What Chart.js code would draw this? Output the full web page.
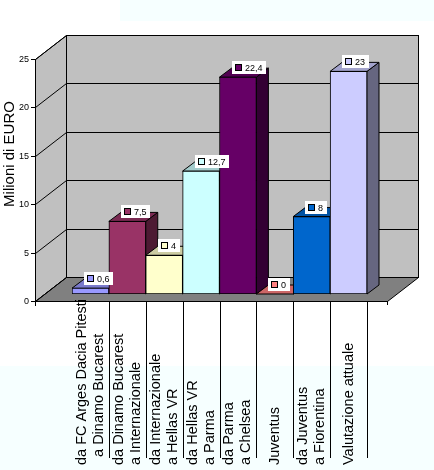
<!DOCTYPE html>
<html>
<head>
<meta charset="utf-8">
<script src="https://cdn.jsdelivr.net/npm/chart.js@4.4.1/dist/chart.umd.min.js"></script>
<style>
  html, body { margin: 0; padding: 0; background: #fff; }
  canvas { display: block; }
</style>
</head>
<body>
<canvas id="chart" width="434" height="470"></canvas>
<script>
// --- data ---
const categories = [
  ['da FC Arges Dacia Pitesti', '  a Dinamo Bucarest'],
  ['da Dinamo Bucarest', 'a Internazionale'],
  ['da Internazionale', 'a Hellas VR'],
  ['da Hellas VR', 'a Parma'],
  ['da Parma', 'a Chelsea'],
  ['Juventus'],
  ['da Juventus', 'a Fiorentina'],
  ['Valutazione attuale']
];
const values      = [0.6, 7.5, 4, 12.7, 22.4, 0, 8, 23];
const valueLabels = ['0,6', '7,5', '4', '12,7', '22,4', '0', '8', '23'];
const barColors   = ['#9999ff', '#993366', '#ffffcc', '#ccffff', '#660066', '#ff8080', '#0066cc', '#ccccff'];
const yTicks      = [0, 5, 10, 15, 20, 25];
const yTitle      = 'Milioni di EURO';

// --- look ---
const FONT = '"Liberation Sans", Arial, sans-serif';
const BAR_DX = 12, BAR_DY = 9;      // depth of a column
const FLOOR_DY = 7;                 // floor front edge sits below the column fronts
const WALL_DX = 31, WALL_DY = 24;   // full depth of the box
const WALL = '#c0c0c0', FLOOR = '#808080';

const px = (v) => Math.round(v) + 0.5;

function shade(hex, f) {
  const n = parseInt(hex.slice(1), 16);
  const r = Math.round(((n >> 16) & 255) * f);
  const g = Math.round(((n >> 8) & 255) * f);
  const b = Math.round((n & 255) * f);
  return `rgb(${r},${g},${b})`;
}

function poly(ctx, pts, fill) {
  ctx.beginPath();
  ctx.moveTo(pts[0][0], pts[0][1]);
  for (let i = 1; i < pts.length; i++) ctx.lineTo(pts[i][0], pts[i][1]);
  ctx.closePath();
  if (fill) { ctx.fillStyle = fill; ctx.fill(); }
  ctx.stroke();
}

function line(ctx, x1, y1, x2, y2) {
  ctx.beginPath();
  ctx.moveTo(x1, y1);
  ctx.lineTo(x2, y2);
  ctx.stroke();
}

function bars(chart) {
  return chart.getDatasetMeta(0).data.map((el, i) => ({
    left: el.x - el.width / 2, right: el.x + el.width / 2,
    top: el.y, base: el.base, color: barColors[i], i
  }));
}

const box3d = {
  id: 'box3d',
  beforeDraw(chart) {
    const ctx = chart.ctx;
    ctx.save();
    ctx.fillStyle = '#f6ffff';
    ctx.fillRect(120, 0, 314, 21);
    ctx.fillRect(0, 366, 434, 104);
    ctx.restore();
  },
  beforeDatasetsDraw(chart) {
    const ctx = chart.ctx, xs = chart.scales.x, ys = chart.scales.y, area = chart.chartArea;
    const step = (area.right - area.left) / categories.length;
    const fl = Math.round(area.left - step), fr = Math.round(area.right + 20);
    const bl = fl + WALL_DX, br = fr + WALL_DX;
    const fy = (v) => Math.round(ys.getPixelForValue(v) + FLOOR_DY);
    const by = (v) => fy(v) - WALL_DY;
    const vMax = yTicks[yTicks.length - 1];

    ctx.save();
    ctx.strokeStyle = '#000';
    ctx.lineWidth = 1;

    // walls and floor
    poly(ctx, [[fl + .5, fy(vMax) + .5], [bl + .5, by(vMax) + .5], [bl + .5, by(0) + .5], [fl + .5, fy(0) + .5]], WALL);
    poly(ctx, [[bl + .5, by(vMax) + .5], [br + .5, by(vMax) + .5], [br + .5, by(0) + .5], [bl + .5, by(0) + .5]], WALL);
    poly(ctx, [[fl + .5, fy(0) + .5], [fr + .5, fy(0) + .5], [br + .5, by(0) + .5], [bl + .5, by(0) + .5]], FLOOR);

    // gridlines, ticks, tick labels
    ctx.font = '9px ' + FONT;
    ctx.fillStyle = '#000';
    ctx.textAlign = 'right';
    ctx.textBaseline = 'middle';
    yTicks.forEach((v) => {
      line(ctx, bl, by(v) + .5, br + 1, by(v) + .5);
      line(ctx, fl + .5, fy(v) + .5, bl + .5, by(v) + .5);
      line(ctx, fl - 4, fy(v) + .5, fl + 1, fy(v) + .5);
      ctx.fillText(String(v), fl - 6, fy(v) + 1);
    });
    line(ctx, fl + .5, fy(vMax), fl + .5, fy(0) + 5);
    line(ctx, fr + .5, fy(0), fr + .5, fy(0) + 4);

    // category separators below the floor
    const labelBottom = 465, sepBottom = 458;
    categories.forEach((_, i) => {
      const xr = px(xs.getPixelForValue(i) + step / 2);
      line(ctx, xr, fy(0), xr, sepBottom);
    });

    // category labels, rotated
    ctx.font = '14.5px ' + FONT;
    ctx.textAlign = 'left';
    ctx.textBaseline = 'middle';
    categories.forEach((lines, i) => {
      const cx = xs.getPixelForValue(i);
      ctx.save();
      ctx.translate(cx, labelBottom);
      ctx.rotate(-Math.PI / 2);
      lines.forEach((t, k) => ctx.fillText(t, 0, (k - (lines.length - 1) / 2) * 17));
      ctx.restore();
    });

    // axis title
    ctx.save();
    ctx.font = '15px ' + FONT;
    ctx.textAlign = 'center';
    ctx.translate(10, 154);
    ctx.rotate(-Math.PI / 2);
    ctx.fillText(yTitle, 0, 0);
    ctx.restore();

    // column sides, then tops; fronts come from Chart.js afterwards
    const bs = bars(chart);
    bs.forEach((b) => {
      poly(ctx, [[b.right, b.top], [b.right + BAR_DX, b.top - BAR_DY],
                 [b.right + BAR_DX, b.base - BAR_DY], [b.right, b.base]], shade(b.color, 0.5));
    });
    bs.forEach((b) => {
      poly(ctx, [[b.left, b.top], [b.right, b.top],
                 [b.right + BAR_DX, b.top - BAR_DY], [b.left + BAR_DX, b.top - BAR_DY]], shade(b.color, 0.8));
    });
    ctx.restore();
  },
  afterDatasetsDraw(chart) {
    const ctx = chart.ctx;
    ctx.save();
    ctx.font = '9px ' + FONT;
    ctx.textBaseline = 'middle';
    ctx.textAlign = 'left';
    ctx.lineWidth = 1;
    bars(chart).forEach((b) => {
      const t = valueLabels[b.i];
      const x0 = Math.round(b.left + BAR_DX);
      const bottom = Math.round(b.top - 3);
      const h = 13, top = bottom - h;
      const w = Math.ceil(ctx.measureText(t).width) + 16;
      ctx.fillStyle = '#fff';
      ctx.fillRect(x0, top, w, h);
      ctx.fillStyle = b.color;
      ctx.fillRect(x0 + 3, top + 3, 7, 7);
      ctx.strokeStyle = '#000';
      ctx.strokeRect(x0 + 3.5, top + 3.5, 6, 6);
      ctx.fillStyle = '#000';
      ctx.fillText(t, x0 + 13, top + h / 2 + 1);
    });
    ctx.restore();
  }
};

new Chart(document.getElementById('chart'), {
  type: 'bar',
  data: {
    labels: categories,
    datasets: [{
      data: values,
      backgroundColor: barColors,
      borderColor: '#000',
      borderWidth: 1,
      borderSkipped: false,
      barPercentage: 1,
      categoryPercentage: 1
    }]
  },
  options: {
    responsive: false,
    animation: false,
    layout: { padding: { left: 72, right: 67, top: 52, bottom: 176 } },
    plugins: { legend: { display: false }, tooltip: { enabled: false } },
    scales: {
      x: { display: false },
      y: { display: false, min: 0, max: 25 }
    }
  },
  plugins: [box3d]
});
</script>
</body>
</html>
